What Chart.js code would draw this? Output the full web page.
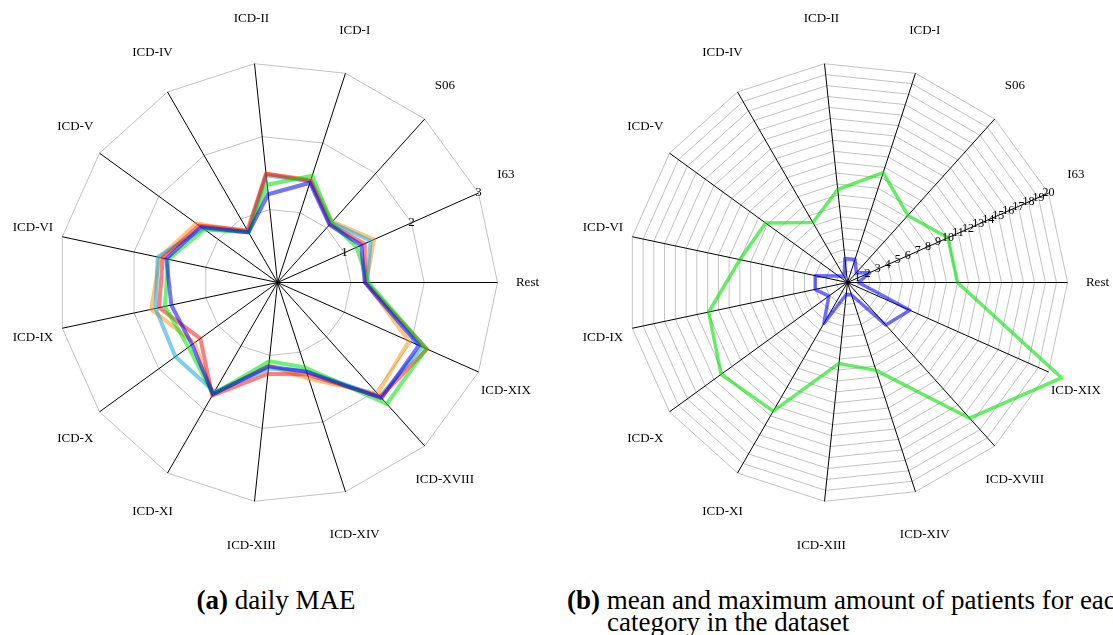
<!DOCTYPE html>
<html>
<head>
<meta charset="utf-8">
<script src="https://cdn.jsdelivr.net/npm/chart.js@4.4.1/dist/chart.umd.min.js"></script>
<style>
  html, body { margin: 0; padding: 0; background: #fff; }
  body { width: 1113px; height: 635px; position: relative; overflow: hidden; }
  canvas { position: absolute; top: 0; }
  .cap { position: absolute; font-family: "Liberation Serif", "Times New Roman", serif; font-size: 27px; line-height: 25px; color: #000; white-space: nowrap; }
</style>
</head>
<body>
<canvas id="mae" width="560" height="585" style="left:0"></canvas>
<canvas id="patients" width="553" height="585" style="left:560px"></canvas>
<div class="cap" style="left:0;width:552px;text-align:center;top:588px"><b>(a)</b> daily MAE</div>
<div class="cap" style="left:567px;top:588px"><b>(b)</b> mean and maximum amount of patients for each</div>
<div class="cap" style="left:607px;top:610px">category in the dataset</div>
<script>
// Categories, listed counter-clockwise starting from the right-hand spoke
const categories = ['Rest', 'I63', 'S06', 'ICD-I', 'ICD-II', 'ICD-IV', 'ICD-V', 'ICD-VI',
                    'ICD-IX', 'ICD-X', 'ICD-XI', 'ICD-XIII', 'ICD-XIV', 'ICD-XVIII', 'ICD-XIX'];

// (a) daily MAE per category, one array per model
const maeA = [1.19, 1.25, 1.06, 1.43, 1.21, 0.79, 1.29, 1.55, 1.48, 1.44, 1.76, 1.15, 1.28, 2.12, 2.11];
const maeB = [1.24, 1.18, 1.10, 1.53, 1.34, 0.79, 1.23, 1.52, 1.57, 1.50, 1.76, 1.08, 1.22, 2.23, 2.22];
const maeC = [1.20, 1.30, 1.07, 1.46, 1.49, 0.82, 1.32, 1.60, 1.65, 1.30, 1.78, 1.25, 1.32, 2.10, 2.23];
const maeD = [1.22, 1.39, 1.10, 1.45, 1.47, 0.79, 1.25, 1.67, 1.70, 1.72, 1.72, 1.18, 1.27, 2.09, 2.16];
const maeE = [1.21, 1.44, 1.12, 1.47, 1.49, 0.80, 1.37, 1.64, 1.76, 1.40, 1.76, 1.14, 1.38, 2.04, 1.96];

// (b) mean and maximum number of patients per category
const patientsMean = [1.0, 2.2, 1.2, 2.2, 2.2, 0.6, 1.0, 3.0, 3.0, 2.1, 4.3, 1.1, 1.2, 5.2, 6.2];
const patientsMax  = [10, 10, 8.2, 10.5, 8.5, 6.3, 9.2, 10, 12.9, 14.2, 13.5, 7.4, 8.4, 16.6, 21.3];

// Radial tick labels
const maeTicks = [1, 2, 3];
const patientTicks = [1, 2, 3, 4, 5, 6, 7, 8, 9, 10, 11, 12, 13, 14, 15, 16, 17, 18, 19, 20];

const SERIF = '"Liberation Serif", "Times New Roman", serif';

// Chart.js walks clockwise; keep the first entry and reverse the rest
const clockwise = arr => [arr[0], ...arr.slice(1).reverse()];

// Category names around the rim (on a slightly taller-than-wide ellipse)
// and radial tick values along the I63 spoke
const spokeText = {
  id: 'spokeText',
  afterDatasetsDraw(chart, args, opts) {
    const r = chart.scales.r;
    const ctx = chart.ctx;
    ctx.save();
    ctx.fillStyle = '#000';
    ctx.textAlign = 'center';
    ctx.textBaseline = 'middle';
    ctx.font = '13px ' + SERIF;
    chart.data.labels.forEach((lab, i) => {
      const px = r.getPointPosition(i, r.drawingArea + 30);
      const py = r.getPointPosition(i, r.drawingArea + 45);
      ctx.fillText(lab, px.x, py.y);
    });
    ctx.font = opts.tickSize + 'px ' + SERIF;
    const k = chart.data.labels.indexOf('I63');
    opts.ticks.forEach(v => {
      const p = r.getPointPosition(k, r.getDistanceFromCenterForValue(v));
      ctx.fillText(String(v), p.x, p.y);
    });
    ctx.restore();
  }
};

function radarOptions(max, cx, cy, ticks, tickSize) {
  return {
    responsive: false,
    animation: false,
    events: [],
    layout: { padding: 0 },
    elements: {
      line: { tension: 0, fill: false, borderJoinStyle: 'round' },
      point: { radius: 0, hoverRadius: 0 }
    },
    plugins: {
      legend: { display: false },
      tooltip: { enabled: false },
      spokeText: { ticks: ticks, tickSize: tickSize }
    },
    scales: {
      r: {
        min: 0,
        max: max,
        startAngle: 90,
        ticks: { display: false, stepSize: 1 },
        grid: { color: '#c2c2c2', lineWidth: 1, circular: false },
        angleLines: { color: '#000', lineWidth: 1 },
        pointLabels: { display: false },
        afterFit(scale) {
          scale.xCenter = cx;
          scale.yCenter = cy;
          scale.drawingArea = 220;
        }
      }
    }
  };
}

const line = (label, data, color, width) => ({
  label: label,
  data: clockwise(data),
  borderColor: color,
  borderWidth: width,
  backgroundColor: 'transparent',
  fill: false
});

new Chart(document.getElementById('mae'), {
  type: 'radar',
  data: {
    labels: clockwise(categories),
    datasets: [
      line('model A', maeA, 'rgba(0,0,255,0.55)', 4),
      line('model B', maeB, 'rgba(0,225,0,0.55)', 4),
      line('model C', maeC, 'rgba(255,0,0,0.5)', 4),
      line('model D', maeD, 'rgba(20,165,215,0.55)', 4),
      line('model E', maeE, 'rgba(255,140,0,0.5)', 4)
    ]
  },
  options: radarOptions(3, 277.5, 282.5, maeTicks, 13),
  plugins: [spokeText]
});

new Chart(document.getElementById('patients'), {
  type: 'radar',
  data: {
    labels: clockwise(categories),
    datasets: [
      line('maximum', patientsMax, 'rgba(0,225,0,0.6)', 3.5),
      line('mean', patientsMean, 'rgba(0,0,255,0.58)', 3.5)
    ]
  },
  options: radarOptions(20, 287.5, 282.5, patientTicks, 12),
  plugins: [spokeText]
});
</script>
</body>
</html>
